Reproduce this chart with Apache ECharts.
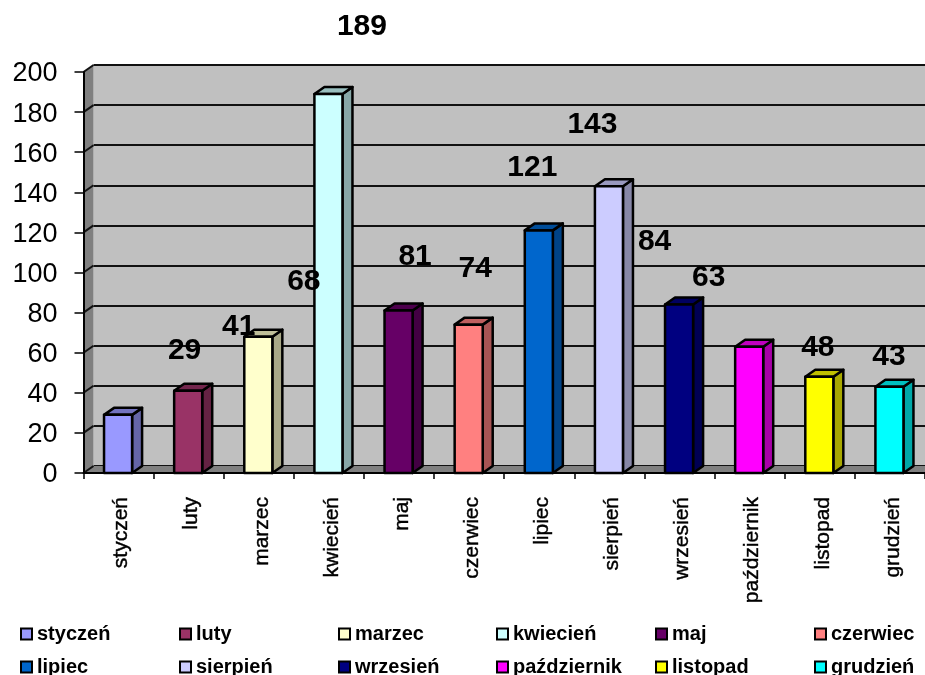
<!DOCTYPE html>
<html><head><meta charset="utf-8">
<script src="https://cdn.jsdelivr.net/npm/echarts@6/dist/echarts.min.js"></script>
<style>html,body{margin:0;padding:0;background:#fff}#c{width:925px;height:675px}</style>
</head><body><div id="c"></div>
<script>
const months = ['styczeń','luty','marzec','kwiecień','maj','czerwiec','lipiec','sierpień','wrzesień','październik','listopad','grudzień'];
const values = [29,41,68,189,81,74,121,143,84,63,48,43];
const colors = ['#9999FF','#993366','#FFFFCC','#CCFFFF','#660066','#FF8080','#0066CC','#CCCCFF','#000080','#FF00FF','#FFFF00','#00FFFF'];
const yTicks = [0,20,40,60,80,100,120,140,160,180,200];
// Where each value label sits relative to the top of its column
const labelDx = [66,50,45,33,16,6,-7,-17,-25,-41,-2,-1];
const labelDy = [-64,-64,-55,-67,-54,-56,-63,-62,-63,-69,-29,-30];

const DX = 10, DY = -7;
const font = '"Liberation Sans", Arial, sans-serif';

function shade(hex, k){
  const n = parseInt(hex.slice(1),16);
  const c = [n>>16&255, n>>8&255, n&255].map(v=>Math.round(v*k));
  return `rgb(${c.join(',')})`;
}
function barItem(idx){
  return function(params, api){
    const p = api.coord([api.value(0), api.value(1)]);
    const base = api.coord([api.value(0), 0]);
    const w = api.size([1,0])[0]*0.4;
    const l = p[0]-w/2-0.5, r = l+w, t = p[1], b = base[1];
    const stroke = {stroke:'#000', lineWidth:2.5, lineJoin:'round'};
    return {type:'group', children:[
      {type:'polygon', shape:{points:[[r,t],[r+DX,t+DY],[r+DX,b+DY],[r,b]]},
        style:{fill:shade(colors[idx],0.66), ...stroke}},
      {type:'polygon', shape:{points:[[l,t],[l+DX,t+DY],[r+DX,t+DY],[r,t]]},
        style:{fill:shade(colors[idx],0.75), ...stroke}},
      {type:'rect', shape:{x:l,y:t,width:w,height:b-t},
        style:{fill:colors[idx], ...stroke}}
    ]};
  };
}
const barSeries = months.map((m,i)=>({
  name:m, type:'custom', xAxisIndex:0, yAxisIndex:0, z:5, clip:false,
  itemStyle:{color:colors[i]},
  encode:{x:0,y:1},
  data:[[m,values[i]]],
  renderItem:barItem(i)
}));
const wallSeries = {
  type:'custom', name:'ściana', xAxisIndex:0, yAxisIndex:0, z:1, clip:false, silent:true,
  data:yTicks.map(v=>[0,v]), encode:{y:1},
  renderItem(params, api){
    const cs = params.coordSys;
    const y = api.coord([0, api.value(1)])[1];
    const kids = [];
    if(params.dataIndex===0){
      kids.push({type:'polygon', shape:{points:[[cs.x,y],[cs.x+DX,y+DY],[cs.x+cs.width,y+DY],[cs.x+cs.width,y]]},
        style:{fill:'#808080'}});
      const top = api.coord([0,200])[1];
      kids.push({type:'polygon', shape:{points:[[cs.x,top],[cs.x+DX,top+DY],[cs.x+DX,y+DY],[cs.x,y]]},
        style:{fill:'#808080'}});
    }
    kids.push({type:'line', shape:{x1:cs.x,y1:y,x2:cs.x+DX,y2:y+DY}, style:{stroke:'#111',lineWidth:2}});
    return {type:'group', children:kids};
  }
};
const labelSeries = {
  type:'custom', name:'etykiety', xAxisIndex:0, yAxisIndex:0, z:10, clip:false, silent:true,
  encode:{x:0,y:1},
  data:months.map((m,i)=>[m,values[i]]),
  renderItem(params, api){
    const i = params.dataIndex;
    const p = api.coord([api.value(0), api.value(1)]);
    return {type:'text', style:{text:String(values[i]), x:p[0]+labelDx[i], y:p[1]+labelDy[i],
      fill:'#000', font:'bold 30px '+font, align:'center', verticalAlign:'middle'}};
  }
};
const legendX = [15,174,333,491,650,809];
const legendY = [619,652];
const legends = months.map((m,i)=>({
  show:true, left:legendX[i%6], top:legendY[Math.floor(i/6)],
  icon:'rect', itemWidth:11, itemHeight:11,
  itemStyle:{borderColor:'#000',borderWidth:2},
  textStyle:{fontFamily:font,fontWeight:'bold',fontSize:20,color:'#000',padding:[0,0,0,0]},
  data:[m]
}));
const chart = echarts.init(document.getElementById('c'),null,{renderer:'canvas'});
chart.setOption({
  animation:false, backgroundColor:'#fff',
  grid:[
    {left:83.5,right:0,top:72,bottom:202,containLabel:false},
    {left:93.5,right:0,top:65,bottom:209,show:true,backgroundColor:'#C0C0C0',borderWidth:0}
  ],
  legend:legends,
  xAxis:[
    {type:'category',gridIndex:0,data:months,z:6,
     axisLine:{lineStyle:{color:'#000',width:2}},
     axisTick:{show:true,interval:0,alignWithLabel:false,length:6,lineStyle:{color:'#000',width:1.5}},
     axisLabel:{rotate:90,interval:0,margin:24,verticalAlign:'top',lineHeight:6,fontFamily:font,fontSize:21,color:'#000',textBorderColor:'#000',textBorderWidth:0.4}},
    {type:'category',gridIndex:1,data:months,axisLine:{show:false},axisTick:{show:false},axisLabel:{show:false}}
  ],
  yAxis:[
    {type:'value',gridIndex:0,min:0,max:200,interval:20,z:6,
     axisLine:{show:true,lineStyle:{color:'#000',width:2}},
     axisTick:{show:true,length:9,lineStyle:{color:'#000',width:1.5}},
     splitLine:{show:false},
     axisLabel:{margin:26,verticalAlign:'top',lineHeight:4,fontFamily:font,fontSize:27,color:'#000'}},
    {type:'value',gridIndex:1,min:0,max:200,interval:20,
     axisLine:{show:false},axisTick:{show:false},axisLabel:{show:false},
     splitLine:{show:true,lineStyle:{color:'#111',width:2}}}
  ],
  series:[wallSeries,...barSeries,labelSeries]
});
</script></body></html>
